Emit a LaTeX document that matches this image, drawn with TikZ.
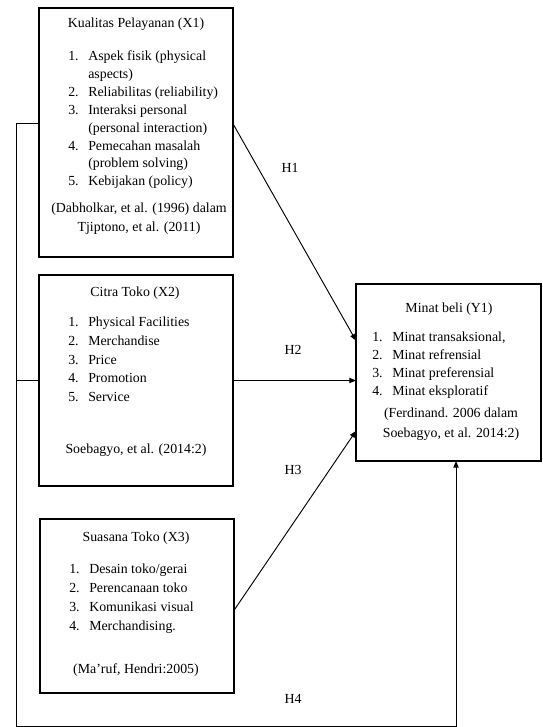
\documentclass[tikz,border=0pt]{standalone}
\usepackage{fontspec}
\setmainfont{Liberation Serif}
\usetikzlibrary{arrows.meta,calc}

\newcommand{\nomor}[1]{\makebox[15pt][l]{#1}}
\newcommand{\sisip}{\hspace*{15pt}}

\begin{document}
\begin{tikzpicture}[x=0.75pt,y=0.75pt,yscale=-1,xscale=1,
  kotak/.style={draw, line width=0.9pt, inner sep=0pt, outer sep=0pt},
  teks/.style={font=\fontsize{10.4}{13.4}\selectfont, inner sep=0pt},
  panah/.style={line width=0.7pt, -{Triangle[length=5pt,width=4pt]}}]
\useasboundingbox (0,0) rectangle (542,727);

%Kotak X1
\node (x1) [kotak, minimum width=145.5pt, minimum height=186.75pt] at (136,132.5) {};
%Kotak X2
\node (x2) [kotak, minimum width=145.5pt, minimum height=158.25pt] at (136,380.5) {};
%Kotak X3
\node (x3) [kotak, minimum width=145.5pt, minimum height=130.5pt] at (137,606) {};
%Kotak Y1
\node (y1) [kotak, minimum width=138.75pt, minimum height=132.75pt] at (448.5,372.5) {};

% Text Node (base = baris terakhir)
\node (x1judul) [teks, anchor=base] at (136,28) {Kualitas Pelayanan (X1)};
% Text Node
\node (x1daftar) [teks, anchor=base west, align=left] at (68,185.8) {\nomor{1.}Aspek fisik (physical\\\sisip aspects)\\\nomor{2.}Reliabilitas (reliability)\\\nomor{3.}Interaksi personal\\\sisip (personal interaction)\\\nomor{4.}Pemecahan masalah\\\sisip (problem solving)\\\nomor{5.}Kebijakan (policy)};
% Text Node
\node (x1sumber) [teks, anchor=base, align=center, font=\fontsize{10.4}{13.7}\selectfont] at (139,231) {(Dabholkar, et al. (1996) dalam\\Tjiptono, et al. (2011)};

% Text Node
\node (x2judul) [teks, anchor=base] at (135,296) {Citra Toko (X2)};
% Text Node
\node (x2daftar) [teks, anchor=base west, align=left, font=\fontsize{10.4}{14}\selectfont] at (68,401.5) {\nomor{1.}Physical Facilities\\\nomor{2.}Merchandise\\\nomor{3.}Price\\\nomor{4.}Promotion\\\nomor{5.}Service};
% Text Node
\node (x2sumber) [teks, anchor=base] at (136,453) {Soebagyo, et al. (2014:2)};

% Text Node
\node (x3judul) [teks, anchor=base] at (136,541) {Suasana Toko (X3)};
% Text Node
\node (x3daftar) [teks, anchor=base west, align=left, font=\fontsize{10.4}{14.4}\selectfont] at (69,630.6) {\nomor{1.}Desain toko/gerai\\\nomor{2.}Perencanaan toko\\\nomor{3.}Komunikasi visual\\\nomor{4.}Merchandising.};
% Text Node
\node (x3sumber) [teks, anchor=base] at (136,673) {(Ma’ruf, Hendri:2005)};

% Text Node
\node (y1judul) [teks, anchor=base] at (449,312) {Minat beli (Y1)};
% Text Node
\node (y1daftar) [teks, anchor=base west, align=left] at (372,395.5) {\nomor{1.}Minat transaksional,\\\nomor{2.}Minat refrensial\\\nomor{3.}Minat preferensial\\\nomor{4.}Minat eksploratif};
% Text Node
\node (y1sumber) [teks, anchor=base, align=center, font=\fontsize{10.4}{14.5}\selectfont] at (451,437) {(Ferdinand. 2006 dalam\\Soebagyo, et al. 2014:2)};

% Hipotesis
\node (h1) [teks] at (290,168) {H1};
\node (h2) [teks] at (293,350) {H2};
\node (h3) [teks] at (293,470) {H3};
\node (h4) [teks] at (293,699) {H4};

\coordinate (jalur) at (16,726);
\coordinate (ujung) at (456,726);

% panah H1 - H3
\draw [panah] ($(x1.north east)!0.465!(x1.south east)$) -- ($(y1.north west)!0.32!(y1.south west)$);
\draw [panah] (x2.east) -- (x2.east -| y1.west);
\draw [panah] ($(x3.north east)!0.525!(x3.south east)$) -- ($(y1.north west)!0.83!(y1.south west)$);

% garis H4
\draw [panah] ($(x1.north west)!0.465!(x1.south west)$) -| (jalur) -- (ujung) -- (ujung |- y1.south);
\draw [line width=0.7pt] (x2.west) -- (x2.west -| jalur);
\draw [line width=0.7pt] ($(x3.north west)!0.525!(x3.south west)$) -- ($(x3.north west)!0.525!(x3.south west)$ -| jalur);

\end{tikzpicture}
\end{document}
